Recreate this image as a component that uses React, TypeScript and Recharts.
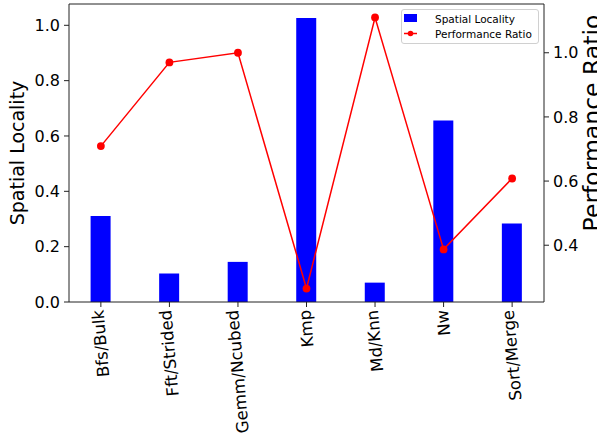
import React from 'react';
import { ComposedChart, Bar, Line, XAxis, YAxis, Legend, ReferenceLine } from 'recharts';

const categories = ['Bfs/Bulk', 'Fft/Strided', 'Gemm/Ncubed', 'Kmp', 'Md/Knn', 'Nw', 'Sort/Merge'];
const spatialLocality = [0.311, 0.103, 0.145, 1.026, 0.07, 0.656, 0.284];
const performanceRatio = [0.709, 0.97, 1.0, 0.265, 1.11, 0.387, 0.608];
const leftTicks = [0, 0.2, 0.4, 0.6, 0.8, 1.0];
const rightTicks = [0.4, 0.6, 0.8, 1.0];

const data = categories.map((name, i) => ({
  x: i,
  name,
  spatial: spatialLocality[i],
  perf: performanceRatio[i],
}));

const FONT = 'DejaVu Sans';
const AXIS_COLOR = '#222';
const LEFT_MAX = 1.077;
const XTICK_SIZE = 16.5;

let ctx: CanvasRenderingContext2D | null = null;
function measure(text: string, size: number) {
  if (!ctx) {
    const c = document.createElement('canvas');
    ctx = c.getContext('2d');
  }
  if (!ctx) return text.length * size * 0.6;
  ctx.font = `${size}px "${FONT}"`;
  return ctx.measureText(text).width;
}

const XTick = (props: any) => {
  const { x, y, payload } = props;
  const label = categories[payload.value] ?? '';
  const L = measure(label, XTICK_SIZE);
  const ax = x - 0.0435 * L;
  const ay = y + 1;
  return (
    <text
      x={ax}
      y={ay}
      transform={`rotate(-95, ${ax}, ${ay})`}
      textAnchor="end"
      dominantBaseline="central"
      fontFamily={FONT}
      fontSize={XTICK_SIZE}
      fill="#000"
    >
      {label}
    </text>
  );
};

const renderLegend = () => (
  <div
    style={{
      width: 138,
      height: 35,
      border: '1px solid #d0d0d0',
      borderRadius: 3,
      background: 'rgba(255,255,255,0.8)',
      boxSizing: 'border-box',
      position: 'relative',
    }}
  >
    <svg width={138} height={35} style={{ position: 'absolute', left: -1, top: -1 }}>
      <rect x={3} y={5} width={13} height={8} fill="#0000ff" />
      <text x={34} y={9.5} dominantBaseline="central" fontFamily={FONT} fontSize={10.5} fill="#000">
        Spatial Locality
      </text>
      <line x1={3} y1={24.5} x2={16} y2={24.5} stroke="#ff0000" strokeWidth={1.5} />
      <circle cx={9.5} cy={24.5} r={2.8} fill="#ff0000" />
      <text x={34} y={24.5} dominantBaseline="central" fontFamily={FONT} fontSize={10.5} fill="#000">
        Performance Ratio
      </text>
    </svg>
  </div>
);

export default function App() {
  return (
    <div style={{ position: 'absolute', left: 0, top: 0, width: 597, height: 442, background: '#fff', overflow: 'hidden' }}>
      <ComposedChart
        width={597}
        height={442}
        data={data}
        margin={{ top: 4, right: 0, bottom: 0, left: 0 }}
      >
        <XAxis
          xAxisId="bottom"
          dataKey="x"
          type="number"
          domain={[-0.465, 6.465]}
          ticks={[0, 1, 2, 3, 4, 5, 6]}
          allowDataOverflow
          height={140}
          tickSize={5}
          tickMargin={2}
          tick={<XTick />}
          axisLine={{ stroke: AXIS_COLOR, strokeWidth: 1 }}
          tickLine={{ stroke: AXIS_COLOR, strokeWidth: 1 }}
          interval={0}
        />
        <YAxis
          yAxisId="left"
          width={69}
          domain={[0, LEFT_MAX]}
          ticks={leftTicks}
          allowDataOverflow
          tickFormatter={(v: number) => v.toFixed(1)}
          tickSize={5}
          tickMargin={4}
          tick={{ fontFamily: FONT, fontSize: 16, fill: '#000' }}
          axisLine={{ stroke: AXIS_COLOR, strokeWidth: 1 }}
          tickLine={{ stroke: AXIS_COLOR, strokeWidth: 1 }}
          label={{
            content: () => (
              <text
                x={17}
                y={153}
                transform="rotate(-90, 17, 153)"
                textAnchor="middle"
                dominantBaseline="central"
                fontFamily={FONT}
                fontSize={19}
                fill="#000"
              >
                Spatial Locality
              </text>
            ),
          }}
        />
        <YAxis
          yAxisId="right"
          orientation="right"
          width={53}
          domain={[0.223, 1.152]}
          ticks={rightTicks}
          allowDataOverflow
          tickFormatter={(v: number) => v.toFixed(1)}
          tickSize={5}
          tickMargin={4}
          tick={{ fontFamily: FONT, fontSize: 16, fill: '#000' }}
          axisLine={{ stroke: AXIS_COLOR, strokeWidth: 1 }}
          tickLine={{ stroke: AXIS_COLOR, strokeWidth: 1 }}
          label={{
            content: () => (
              <text
                x={600}
                y={123}
                transform="rotate(-90, 600, 123)"
                textAnchor="middle"
                fontFamily={FONT}
                fontSize={23.5}
                fill="#000"
              >
                Performance Ratio
              </text>
            ),
          }}
        />
        <ReferenceLine
          xAxisId="bottom"
          yAxisId="left"
          y={LEFT_MAX}
          stroke={AXIS_COLOR}
          strokeWidth={1}
        />
        <Bar
          xAxisId="bottom"
          yAxisId="left"
          dataKey="spatial"
          name="Spatial Locality"
          fill="#0000ff"
          barSize={20}
          isAnimationActive={false}
        />
        <Line
          xAxisId="bottom"
          yAxisId="right"
          dataKey="perf"
          name="Performance Ratio"
          stroke="#ff0000"
          strokeWidth={1.5}
          dot={{ r: 3.9, fill: '#ff0000', stroke: 'none' }}
          activeDot={false}
          isAnimationActive={false}
        />
        <Legend
          layout="vertical"
          align="center"
          verticalAlign="middle"
          content={renderLegend}
          wrapperStyle={{ position: 'absolute', left: 401, top: 9, width: 138, height: 35 }}
        />
      </ComposedChart>
    </div>
  );
}
